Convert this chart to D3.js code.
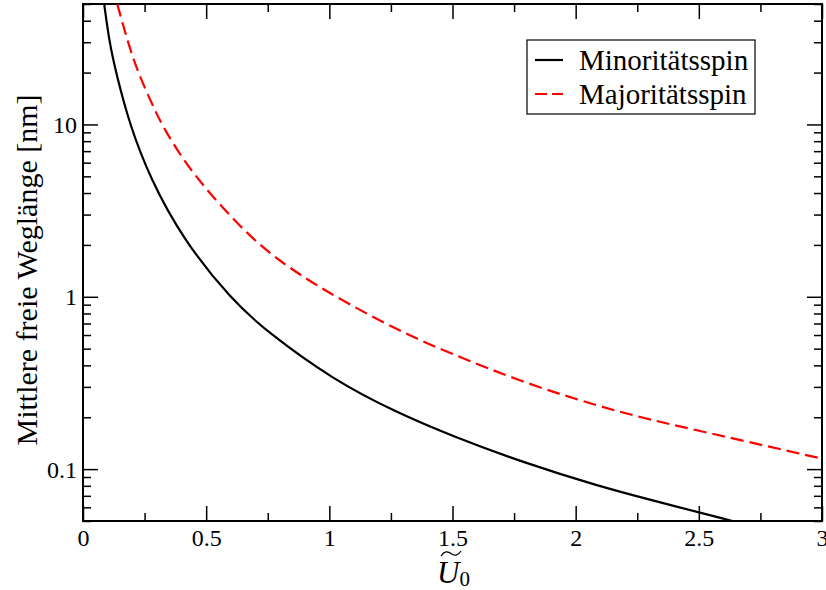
<!DOCTYPE html>
<html>
<head>
    <title>Mittlere freie Weglänge</title>
    <meta charset="utf-8">
    <style>
        body { margin: 0; background: #fff; }
        text { font-family: "Liberation Serif", "Times New Roman", serif; fill: #000; }
    </style>
</head>
<body>
<script src="https://d3js.org/d3.v7.min.js"></script>
<script>
    // Values: U0 (x) and free path in nm (y)
    const minorityU = [0.086, 0.107, 0.134, 0.189, 0.272, 0.407, 0.603, 0.745, 1.015, 1.27, 1.501, 1.792, 2.096, 2.298, 2.636];
    const minorityL = [50, 30, 20, 10, 4.88, 2.14, 0.96, 0.63, 0.33, 0.214, 0.155, 0.1086, 0.0795, 0.0666, 0.05];
    const majorityU = [0.139, 0.182, 0.223, 0.285, 0.324, 0.407, 0.474, 0.542, 0.677, 0.797, 0.981, 1.285, 1.488, 1.792, 2.096, 2.298, 2.542, 3.0];
    const majorityL = [50, 30, 20, 12.7, 9.7, 6.23, 4.7, 3.59, 2.24, 1.61, 1.08, 0.629, 0.472, 0.316, 0.231, 0.194, 0.162, 0.115];
    const seriesNames = ['Minoritätsspin', 'Majoritätsspin'];

    const xMajor = [0, 0.5, 1, 1.5, 2, 2.5, 3];
    const xMinor = [0.25, 0.75, 1.25, 1.75, 2.25, 2.75];
    const yMajor = [0.1, 1, 10];
    const yMinor = [0.05, 0.06, 0.07, 0.08, 0.09, 0.2, 0.3, 0.4, 0.5, 0.6, 0.7, 0.8, 0.9,
        2, 3, 4, 5, 6, 7, 8, 9, 20, 30, 40, 50];

    const SIZES = {
        WIDTH: 826,
        HEIGHT: 590,
        LEFT: 83,
        RIGHT: 822,
        TOP: 4,
        BOTTOM: 521,
        MAJOR: 15,
        MINOR: 8
    };

    const x = d3.scaleLinear().domain([0, 3]).range([SIZES.LEFT, SIZES.RIGHT]);
    const y = d3.scaleLog().domain([0.05, 50]).range([SIZES.BOTTOM, SIZES.TOP]);

    const svg = d3.select('body').append('svg')
        .attr('width', SIZES.WIDTH)
        .attr('height', SIZES.HEIGHT);

    svg.append('clipPath').attr('id', 'plot')
        .append('rect')
        .attr('x', SIZES.LEFT).attr('y', SIZES.TOP)
        .attr('width', SIZES.RIGHT - SIZES.LEFT)
        .attr('height', SIZES.BOTTOM - SIZES.TOP);

    // Axes: inward ticks on all four sides
    const fmt = d => String(d);
    const addAxis = (axis, transform, labels) => {
        const g = svg.append('g').attr('transform', transform).call(axis);
        g.select('.domain').remove();
        g.selectAll('.tick line').attr('stroke', '#000').attr('stroke-width', 1.5);
        if (!labels) g.selectAll('.tick text').remove();
        return g;
    };

    addAxis(d3.axisBottom(x).tickValues(xMajor).tickSize(-SIZES.MAJOR).tickFormat(fmt), `translate(0,${SIZES.BOTTOM})`, true)
        .selectAll('.tick text')
        .attr('y', 8).attr('dy', '0.71em')
        .style('font-size', '24px');
    addAxis(d3.axisBottom(x).tickValues(xMinor).tickSize(-SIZES.MINOR), `translate(0,${SIZES.BOTTOM})`, false);
    addAxis(d3.axisTop(x).tickValues(xMajor).tickSize(-SIZES.MAJOR), `translate(0,${SIZES.TOP})`, false);
    addAxis(d3.axisTop(x).tickValues(xMinor).tickSize(-SIZES.MINOR), `translate(0,${SIZES.TOP})`, false);

    addAxis(d3.axisLeft(y).tickValues(yMajor).tickSize(-SIZES.MAJOR).tickFormat(fmt), `translate(${SIZES.LEFT},0)`, true)
        .selectAll('.tick text')
        .attr('x', -6).attr('dy', '0.34em')
        .style('font-size', '24px');
    addAxis(d3.axisLeft(y).tickValues(yMinor).tickSize(-SIZES.MINOR), `translate(${SIZES.LEFT},0)`, false);
    addAxis(d3.axisRight(y).tickValues(yMajor).tickSize(-SIZES.MAJOR), `translate(${SIZES.RIGHT},0)`, false);
    addAxis(d3.axisRight(y).tickValues(yMinor).tickSize(-SIZES.MINOR), `translate(${SIZES.RIGHT},0)`, false);

    // Frame
    svg.append('rect')
        .attr('x', SIZES.LEFT).attr('y', SIZES.TOP)
        .attr('width', SIZES.RIGHT - SIZES.LEFT)
        .attr('height', SIZES.BOTTOM - SIZES.TOP)
        .attr('fill', 'none').attr('stroke', '#000').attr('stroke-width', 2);

    // Curves (smoothed through the read-off points)
    const line = d3.line()
        .x(d => x(d[0]))
        .y(d => y(d[1]))
        .curve(d3.curveBasis);
    const series = [
        {pts: d3.zip(minorityU, minorityL), color: '#000', dash: null},
        {pts: d3.zip(majorityU, majorityL), color: '#ff0000', dash: '13,6'}
    ];
    svg.append('g').attr('clip-path', 'url(#plot)')
        .selectAll('path')
        .data(series)
        .enter()
        .append('path')
        .attr('d', d => line(d.pts))
        .attr('fill', 'none')
        .attr('stroke', d => d.color)
        .attr('stroke-width', 2.2)
        .attr('stroke-dasharray', d => d.dash);

    // Legend
    const legend = svg.append('g');
    legend.append('rect')
        .attr('x', 527).attr('y', 40).attr('width', 228).attr('height', 74)
        .attr('fill', '#fff').attr('stroke', '#000').attr('stroke-width', 1.2);
    const rows = legend.selectAll('.row')
        .data(series)
        .enter()
        .append('g')
        .attr('transform', (d, i) => `translate(0,${60 + i * 34})`);
    rows.append('line')
        .attr('x1', 535).attr('x2', 563)
        .attr('stroke', d => d.color)
        .attr('stroke-width', 2.2)
        .attr('stroke-dasharray', d => d.dash ? '12,5' : null);
    rows.append('text')
        .attr('x', 579).attr('dy', '0.33em')
        .style('font-size', '29px')
        .text((d, i) => seriesNames[i]);

    // Axis titles
    svg.append('text')
        .attr('transform', 'translate(37,270) rotate(-90)')
        .attr('text-anchor', 'middle')
        .style('font-size', '30px')
        .text('Mittlere freie Weglänge [nm]');

    const xt = svg.append('text')
        .attr('x', 437).attr('y', 583)
        .style('font-size', '31px');
    xt.append('tspan').style('font-style', 'italic').text('U');
    xt.append('tspan').attr('dy', 3).style('font-size', '21px').text('0');
    // wide tilde over U
    svg.append('path')
        .attr('d', 'M441,556 C444,551 448,551 451,553.5 C454,556 458,556 461,551')
        .attr('fill', 'none').attr('stroke', '#000').attr('stroke-width', 1.2);
</script>
</body>
</html>
